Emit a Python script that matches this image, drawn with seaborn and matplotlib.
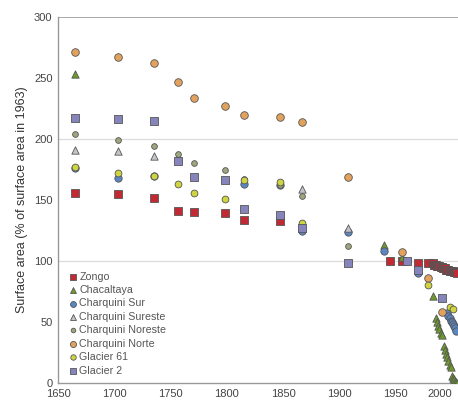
"""
Glacier surface area relative to 1963, moraine reconstructions and recent surveys.
"""

import matplotlib
matplotlib.use("Agg")
import matplotlib.pyplot as plt
import pandas as pd
import seaborn as sns

# --- data ---
zongo_years = [1665, 1703, 1735, 1757, 1771, 1798, 1815, 1847, 1945, 1956, 1970, 1979,
               1983, 1984, 1985, 1986, 1987, 1988, 1989, 1990, 1991, 1992, 1993, 1994,
               1995, 1996, 1997, 1998, 1999, 2000, 2001, 2002, 2003, 2004, 2005]
zongo_vals = [156, 155, 152, 141, 140, 139, 134, 133, 100, 100, 98, 98,
              98, 97, 97, 97, 96, 96, 96, 95, 95, 94, 94, 94,
              93, 93, 93, 92, 92, 92, 92, 91, 91, 91, 90]

chacaltaya_years = [1665, 1940, 1956, 1983, 1986, 1987, 1988, 1989, 1990, 1991, 1993,
                    1994, 1995, 1996, 1997, 1998, 1999, 2000, 2001, 2002, 2003, 2004, 2005]
chacaltaya_vals = [253, 113, 103, 71, 53, 50, 47, 44, 41, 39, 30,
                   27, 24, 21, 18, 15, 13, 6, 4, 3, 2, 1, 0]

charq_sur_years = [1665, 1703, 1735, 1815, 1847, 1867, 1908, 1940, 1970,
                   1996, 1997, 1998, 1999, 2000, 2001, 2002, 2003, 2004]
charq_sur_vals = [176, 168, 170, 163, 162, 125, 124, 108, 90,
                  57, 55, 53, 51, 50, 48, 47, 45, 43]

charq_se_years = [1665, 1703, 1735, 1757, 1867, 1908]
charq_se_vals = [191, 190, 186, 185, 159, 127]

charq_ne_years = [1665, 1703, 1735, 1757, 1771, 1798, 1815, 1847, 1867, 1908]
charq_ne_vals = [204, 199, 194, 188, 180, 175, 167, 162, 153, 112]

charq_norte_years = [1665, 1703, 1735, 1757, 1771, 1798, 1815, 1847, 1867, 1908,
                     1956, 1979, 1991]
charq_norte_vals = [271, 267, 262, 247, 234, 227, 220, 218, 214, 169,
                    107, 86, 58]

g61_years = [1665, 1703, 1735, 1757, 1771, 1798, 1815, 1847, 1867, 1979, 1998, 2001]
g61_vals = [177, 172, 170, 163, 156, 151, 166, 165, 131, 80, 62, 61]

g2_years = [1665, 1703, 1735, 1757, 1771, 1798, 1815, 1847, 1867, 1908, 1960, 1970, 1991]
g2_vals = [217, 216, 215, 182, 169, 166, 143, 138, 127, 98, 100, 93, 70]

GLACIERS = ["Zongo", "Chacaltaya", "Charquini Sur", "Charquini Sureste",
            "Charquini Noreste", "Charquini Norte", "Glacier 61", "Glacier 2"]
YEARS = [zongo_years, chacaltaya_years, charq_sur_years, charq_se_years,
         charq_ne_years, charq_norte_years, g61_years, g2_years]
VALUES = [zongo_vals, chacaltaya_vals, charq_sur_vals, charq_se_vals,
          charq_ne_vals, charq_norte_vals, g61_vals, g2_vals]

COLORS  = ["#c22a33", "#6e9a2c", "#5a86c4", "#c4c4cc",
           "#9da67c", "#e2a25e", "#cfd53e", "#8585bb"]
MARKERS = ["s", "^", "o", "^", "o", "o", "o", "s"]
SIZES   = [28, 28, 28, 28, 17, 30, 24, 28]

df = pd.concat(
    [pd.DataFrame({"glacier": g, "year": y, "area": v})
     for g, y, v in zip(GLACIERS, YEARS, VALUES)],
    ignore_index=True,
)

sns.set_style("white")
plt.rcParams["font.family"] = ["Liberation Sans", "DejaVu Sans"]

fig = plt.figure(figsize=(4.58, 4.01), dpi=100)
ax = fig.add_axes([58 / 458, 18 / 401, 400 / 458, 366 / 401])

for y in (100, 200):
    ax.axhline(y, color="#dcdcdc", lw=0.9, zorder=0)
ax.axhline(300, color="#a8a8a8", lw=1.4, zorder=0)

for g, c, m, s in zip(GLACIERS, COLORS, MARKERS, SIZES):
    sub = df[df["glacier"] == g]
    sns.scatterplot(data=sub, x="year", y="area", ax=ax, color=c, marker=m, s=s,
                    edgecolor="#555555", linewidth=0.6, label=g, zorder=3)

ax.set_xlim(1650, 2005.5)
ax.set_ylim(0, 300)
ax.set_xticks(range(1650, 2001, 50))
ax.set_yticks(range(0, 301, 50))
ax.tick_params(direction="inout", length=6, width=0.8, color="#888888",
               labelsize=8, labelcolor="#444444", pad=1)
# the last year label sits at the right edge, nudge it inward
ax.get_xticklabels()[-1].set_horizontalalignment("right")
ax.get_xticklabels()[-1].set_x(2000)
ax.set_xlabel("")
ax.set_ylabel("Surface area (% of surface area in 1963)", fontsize=9,
              color="#333333", labelpad=4)

for side in ("top", "right"):
    ax.spines[side].set_visible(False)
for side in ("left", "bottom"):
    ax.spines[side].set_color("#999999")
    ax.spines[side].set_linewidth(1.0)

leg = ax.legend(loc="lower left", bbox_to_anchor=(0.005, 0.0), frameon=False,
                fontsize=7.7, handletextpad=0.1, labelspacing=0.32,
                borderaxespad=0.3, markerscale=0.8, handlelength=1.0)
for t in leg.get_texts():
    t.set_color("#555555")

fig.savefig("out.png", dpi=100)
